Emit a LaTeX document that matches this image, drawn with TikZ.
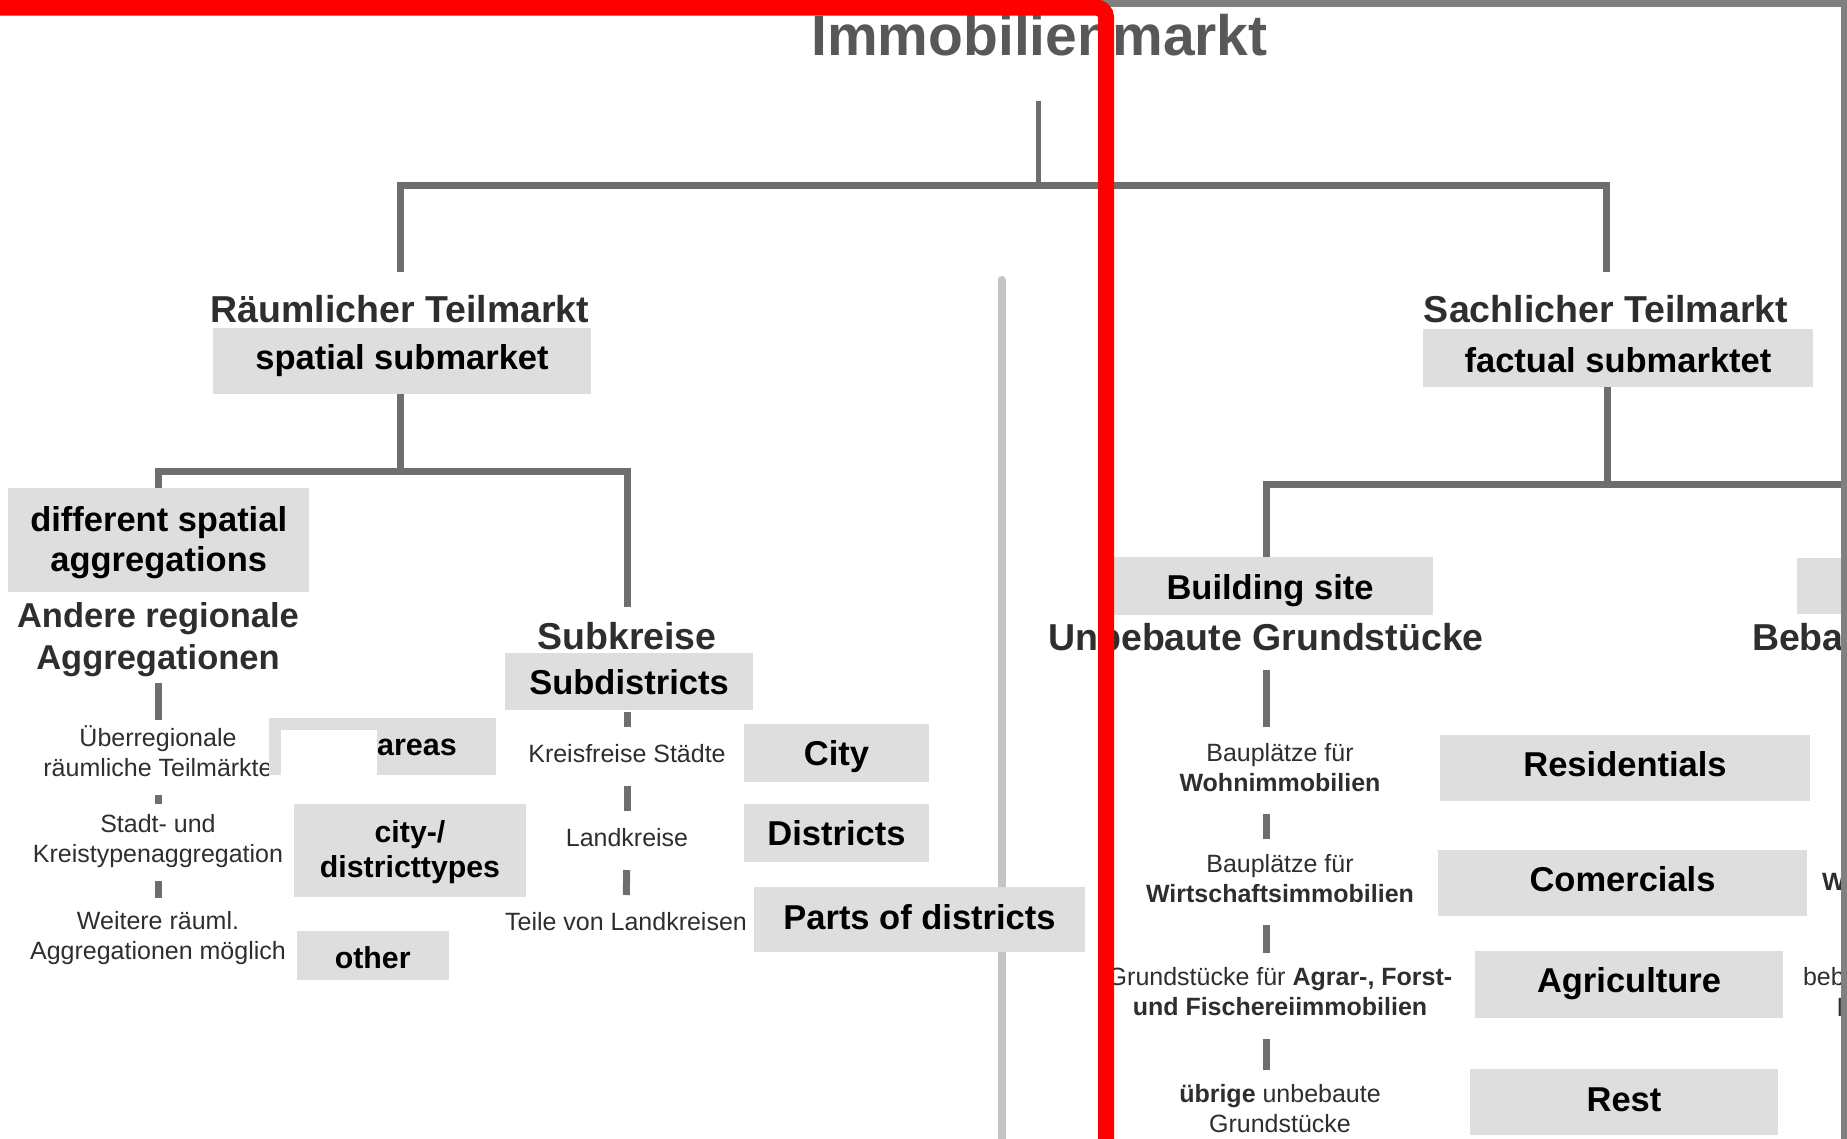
\documentclass[tikz,border=0pt]{standalone}
\usepackage{fontspec}
\setmainfont{Liberation Sans}
\usetikzlibrary{calc}
\definecolor{boxgray}{HTML}{DEDEDE}
\definecolor{lc}{HTML}{6E6E6E}
\definecolor{hd}{HTML}{2E2E2E}
\definecolor{ttl}{HTML}{585858}
\definecolor{sepc}{HTML}{C4C4C4}
\definecolor{framec}{HTML}{808080}
\definecolor{redc}{HTML}{FF0000}
\newcommand{\mytab}[1]{\begin{tabular}[t]{@{}c@{}}#1\end{tabular}}
\tikzset{
  every node/.style={inner sep=0pt, outer sep=0pt},
  head/.style={anchor=base, text=hd, font=\fontsize{37.5}{45}\selectfont\bfseries},
  headb/.style={anchor=base, text=hd, font=\fontsize{34.5}{42}\selectfont\bfseries},
  small/.style={anchor=base, text=hd, font=\fontsize{25}{30}\selectfont},
  gbox/.style={fill=boxgray, text=black, font=\fontsize{34.5}{40}\selectfont\bfseries, text height=26pt, text depth=7pt},
  gboxm/.style={fill=boxgray, text=black, font=\fontsize{34.5}{40}\selectfont\bfseries},
  lbox/.style={fill=boxgray, text=black, font=\fontsize{30.3}{35}\selectfont\bfseries},
  conn/.style={draw=lc, line width=7pt},
  tick/.style={draw=lc, line width=7pt},
}
\begin{document}
\begin{tikzpicture}[x=1pt, y=-1pt]
\useasboundingbox (0,0) rectangle (1847,1138);

% light separator
\coordinate (sepTop) at (1001.5,280);
\coordinate (sepBot) at (1001.5,1160);
\draw[line width=8pt, draw=sepc, line cap=round] (sepTop) -- (sepBot);

% title
\node[anchor=base, text=ttl, font=\fontsize{57}{60}\selectfont\bfseries] (title) at (1039.5,55) {Immobilienmarkt};

% level 1
\node[head] (raumh) at (400,322) {Räumlicher Teilmarkt};
\node[gbox, minimum width=378pt, minimum height=66pt, text height=25pt, text depth=8pt] (spatial) at (402,361) {spatial submarket};
\node[head] (sachh) at (1606,322) {Sachlicher Teilmarkt};
\node[gbox, minimum width=390pt, minimum height=58pt, text height=31pt, text depth=2pt] (factual) at (1618,358) {factual submarktet};

% left column
\node[gboxm, minimum width=300.6pt, minimum height=104.5pt, text height=30pt, text depth=46pt] (diff) at (158.7,539.75) {\mytab{different spatial\\aggregations}};
\node[headb] (andere) at (158,627) {\mytab{Andere regionale\\Aggregationen}};
\node[small] (ueber) at (158,746) {\mytab{Überregionale\\räumliche Teilmärkte}};
\node[small] (stadt) at (158,832) {\mytab{Stadt- und\\Kreistypenaggregation}};
\node[small] (weitere) at (158,929) {\mytab{Weitere räuml.\\Aggregationen möglich}};

\node[lbox, minimum width=227pt, minimum height=56.5pt] (areasbox) at (382.5,746.25) {};
\fill[white] (280.5,729.5) rectangle (377,774.5);
\node[anchor=base, text=black, font=\fontsize{30.5}{35}\selectfont\bfseries] (areas) at (417,755) {areas};
\node[lbox, minimum width=232pt, minimum height=92.5pt, text height=27pt, text depth=43pt] (citydist) at (410,850.25) {\mytab{city-/\\districttypes}};
\node[lbox, minimum width=151.5pt, minimum height=49pt, text height=27pt, text depth=1pt] (other) at (372.75,955.5) {other};

% middle column
\node[head] (subkh) at (627,649) {Subkreise};
\node[gbox, minimum width=248pt, minimum height=57.3pt, text height=29.5pt, text depth=3.5pt] (subd) at (629,681.35) {Subdistricts};
\node[small] (kreisfrei) at (627,762) {\mytab{Kreisfreise Städte}};
\node[small] (landkreise) at (627,846) {\mytab{Landkreise}};
\node[small] (teile) at (626,930) {\mytab{Teile von Landkreisen}};
\node[gbox, minimum width=185pt, minimum height=57.7pt, text height=29.5pt, text depth=3.5pt] (city) at (836.5,752.85) {City};
\node[gbox, minimum width=185pt, minimum height=57.7pt, text height=29.5pt, text depth=3.5pt] (districts) at (836.5,832.85) {Districts};
\node[gbox, minimum width=331pt, minimum height=64.7pt, text height=27pt, text depth=6pt] (parts) at (919.5,919.35) {Parts of districts};

% right column
\node[gbox, minimum width=326pt, minimum height=58pt, text height=29.5pt, text depth=3.5pt] (building) at (1270,586) {Building site};
\node[head] (unbeh) at (1266,650) {Unbebaute Grundstücke};
\node[small] (bau1) at (1280,761) {\mytab{Bauplätze für\\\textbf{Wohnimmobilien}}};
\node[small] (bau2) at (1280,872) {\mytab{Bauplätze für\\\textbf{Wirtschaftsimmobilien}}};
\node[small] (bau3) at (1280,985.5) {\mytab{Grundstücke für \textbf{Agrar-, Forst-}\\\textbf{und Fischereiimmobilien}}};
\node[small] (bau4) at (1280,1102.5) {\mytab{\textbf{übrige} unbebaute\\Grundstücke}};
\node[gbox, minimum width=370pt, minimum height=66pt, text height=25pt, text depth=8pt] (resid) at (1625,767.5) {Residentials};
\node[gbox, minimum width=369pt, minimum height=66pt, text height=25pt, text depth=8pt] (comer) at (1622.5,883) {Comercials};
\node[gbox, minimum width=308pt, minimum height=66.5pt, text height=25pt, text depth=8pt] (agri) at (1629,984.25) {Agriculture};
\node[gbox, minimum width=308pt, minimum height=66pt] (rest) at (1624,1102) {Rest};

% cut-off fragments at the right edge
\node[fill=boxgray, minimum width=60pt, minimum height=56pt, anchor=north west] (bebbox) at (1797,558) {};
\node[head, anchor=base west] (bebah) at (1752,650) {Beba};
\node[anchor=base west, text=hd, font=\fontsize{25}{30}\selectfont\bfseries] (wfrag) at (1822,890) {W};
\node[anchor=base west, text=hd, font=\fontsize{25}{30}\selectfont] (bebfrag) at (1803,985.5) {beb};
\node[anchor=base west, text=hd, font=\fontsize{25}{30}\selectfont] (lfrag) at (1837,1016) {l};

% tree connectors
\coordinate (J0) at (1038,185);
\draw[conn, line width=5pt, shorten <=45pt] (title.south -| J0) -- (J0);
\draw[conn, shorten <=22.7pt, shorten >=22.7pt] (raumh.north) |- (J0) -| (sachh.north);

\coordinate (J1) at (400,471);
\draw[conn] (spatial.south -| J1) -- (J1);
\draw[conn, shorten >=14.7pt] (diff.north) |- (J1) -| (subkh.north);

\coordinate (J2) at (1607,484);
\coordinate (JR) at (1852,484);
\draw[conn] (factual.south -| J2) -- (J2);
\draw[conn] (building.north -| unbeh) |- (JR);

% short ticks
\draw[tick, shorten <=1.5pt, shorten >=5.5pt] (andere.south) -- (ueber.north);
\draw[tick, shorten <=9.5pt, shorten >=7.5pt] (ueber.south) -- (stadt.north);
\draw[tick, shorten <=10pt, shorten >=10pt] (stadt.south) -- (weitere.north);

\draw[tick, shorten <=1.7pt, shorten >=14pt] (subd.south -| kreisfrei) -- (kreisfrei.north);
\draw[tick, shorten <=14.7pt, shorten >=14.3pt] (kreisfrei.south) -- (landkreise.north);
\draw[tick, shorten <=15pt, shorten >=14pt] (landkreise.south) -- (teile.north);

\draw[tick, shorten <=20pt, shorten >=13pt] (unbeh.south) -- (unbeh.south |- bau1.north);
\draw[tick, shorten <=14pt, shorten >=12pt] (bau1.south -| unbeh) -- (bau2.north -| unbeh);
\draw[tick, shorten <=14pt, shorten >=11.5pt] (bau2.south -| unbeh) -- (bau3.north -| unbeh);
\draw[tick, shorten <=14.6pt, shorten >=11.5pt] (bau3.south -| unbeh) -- (bau4.north -| unbeh);

% frames
\coordinate (fA) at (1100,3.5);
\coordinate (fB) at (1844,3.5);
\coordinate (fC) at (1844,1160);
\draw[line width=7pt, draw=framec] (fA) -- (fB) -- (fC);
\coordinate (rA) at (-20,7.5);
\coordinate (rB) at (1106,7.5);
\coordinate (rC) at (1106,1160);
\draw[line width=16pt, draw=redc, rounded corners=10pt] (rA) -- (rB) -- (rC);
\end{tikzpicture}
\end{document}
